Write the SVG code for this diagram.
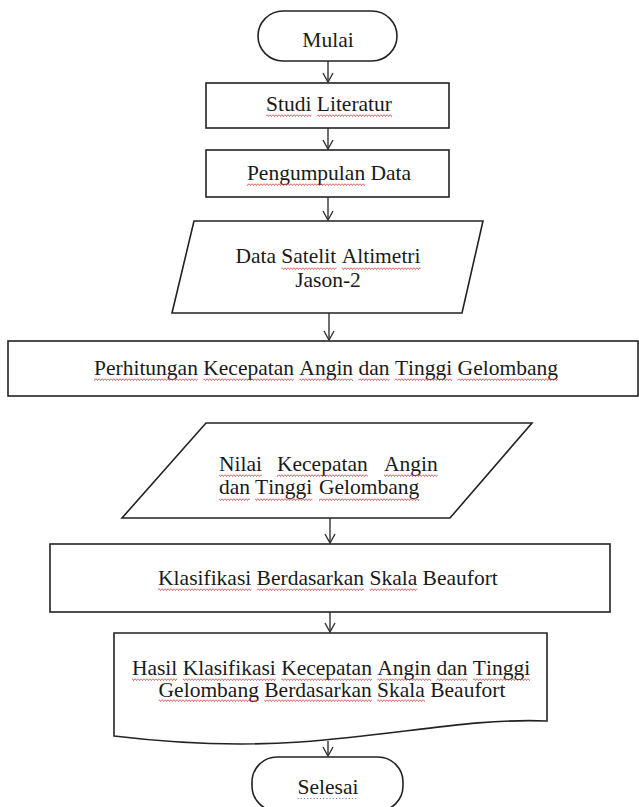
<svg xmlns="http://www.w3.org/2000/svg" width="639" height="807" viewBox="0 0 639 807">
<style>
.s{fill:#fff;stroke:#222;stroke-width:1.6}
.t{font-family:"Liberation Serif","Times New Roman",serif;font-size:21.5px;fill:#1a1a1a;font-kerning:none}
.a{stroke:#333;stroke-width:1.4;fill:none}
.q{fill:url(#sq);height:3px}
.dot{stroke:#7088a8;stroke-width:1.2;stroke-dasharray:1.2 2}
</style>
<defs>
<marker id="ah" markerUnits="userSpaceOnUse" markerWidth="12" markerHeight="12" refX="11" refY="6" orient="auto" viewBox="0 0 12 12">
<path d="M2,1 L11,6 L2,11" fill="none" stroke="#333" stroke-width="1.4"/>
</marker>
<pattern id="sq" width="3" height="3" patternUnits="userSpaceOnUse">
<path d="M0,0.5 L1.5,2.5 L3,0.5" fill="none" stroke="#d03a3a" stroke-width="0.8"/>
</pattern>
</defs>
<rect width="639" height="807" fill="#fff"/>
<g id="connectors">
<line class="a" x1="328" y1="61" x2="328" y2="82" marker-end="url(#ah)"/>
<line class="a" x1="328" y1="128" x2="328" y2="149" marker-end="url(#ah)"/>
<line class="a" x1="328" y1="197" x2="328" y2="220" marker-end="url(#ah)"/>
<line class="a" x1="329" y1="313" x2="329" y2="340" marker-end="url(#ah)"/>
<line class="a" x1="330" y1="518" x2="330" y2="543" marker-end="url(#ah)"/>
<line class="a" x1="330" y1="612" x2="330" y2="632" marker-end="url(#ah)"/>
<line class="a" x1="328" y1="741" x2="328" y2="756" marker-end="url(#ah)"/>
</g>
<g id="mulai">
<rect class="s" x="258" y="11" width="139" height="50" rx="25" ry="25"/>
<text class="t" x="302.3" y="47">Mulai</text>
</g>
<g id="studi">
<rect class="s" x="206" y="83" width="243" height="45"/>
<text class="t" x="266" y="111">Studi Literatur</text>
<rect class="q" x="266" y="114" width="45.4"/>
<rect class="q" x="316.8" y="114" width="75.2"/>
</g>
<g id="pengumpulan">
<rect class="s" x="206" y="150" width="243" height="47"/>
<text class="t" x="246.9" y="180">Pengumpulan Data</text>
<rect class="q" x="246.9" y="183" width="118.3"/>
</g>
<g id="data">
<polygon class="s" points="194,221 483,221 462,313 172,313"/>
<text class="t" x="235.4" y="263">Data Satelit Altimetri</text>
<rect class="q" x="281.4" y="267" width="55"/>
<rect class="q" x="341.8" y="267" width="78.8"/>
<text class="t" x="295.2" y="287">Jason-2</text>
</g>
<g id="perhitungan">
<rect class="s" x="8" y="341" width="630" height="55"/>
<text class="t" x="94" y="375">Perhitungan Kecepatan Angin dan Tinggi Gelombang</text>
<rect class="q" x="94" y="378" width="103.9"/>
<rect class="q" x="203.3" y="378" width="90.7"/>
<rect class="q" x="299.4" y="378" width="53.7"/>
<rect class="q" x="358.5" y="378" width="31"/>
<rect class="q" x="394.9" y="378" width="57.3"/>
<rect class="q" x="457.6" y="378" width="100.3"/>
</g>
<g id="nilai">
<polygon class="s" points="206,423 532,423 450,518 122,518"/>
<text class="t" y="471"><tspan x="219">Nilai</tspan><tspan x="277">Kecepatan</tspan><tspan x="384">Angin</tspan></text>
<text class="t" y="494"><tspan x="219">dan</tspan><tspan x="255">Tinggi</tspan><tspan x="319">Gelombang</tspan></text>
<rect class="q" x="219" y="474" width="43"/>
<rect class="q" x="277" y="474" width="90.7"/>
<rect class="q" x="384" y="474" width="53.7"/>
<rect class="q" x="219" y="498" width="31"/>
<rect class="q" x="255" y="498" width="57.3"/>
<rect class="q" x="319" y="498" width="100.3"/>
</g>
<g id="klasifikasi">
<rect class="s" x="50" y="544" width="560" height="68"/>
<text class="t" x="158.1" y="585">Klasifikasi Berdasarkan Skala Beaufort</text>
<rect class="q" x="158.1" y="588" width="93.2"/>
<rect class="q" x="256.7" y="588" width="107.5"/>
<rect class="q" x="369.6" y="588" width="47.8"/>
</g>
<g id="hasil">
<path class="s" d="M114,633 H547 V721 C470,718 400,735 300,742 C240,746 180,744 114,736 Z"/>
<text class="t" x="131.9" y="675">Hasil Klasifikasi Kecepatan Angin dan Tinggi</text>
<rect class="q" x="131.9" y="678" width="45.4"/>
<rect class="q" x="182.7" y="678" width="93.2"/>
<rect class="q" x="281.3" y="678" width="90.7"/>
<rect class="q" x="377.4" y="678" width="53.7"/>
<rect class="q" x="436.5" y="678" width="31"/>
<rect class="q" x="472.9" y="678" width="57.3"/>
<text class="t" x="158.6" y="697">Gelombang Berdasarkan Skala Beaufort</text>
<rect class="q" x="158.6" y="699" width="100.3"/>
<rect class="q" x="264.3" y="699" width="107.5"/>
<rect class="q" x="377.2" y="699" width="47.8"/>
</g>
<g id="selesai">
<rect class="s" x="252" y="757" width="151" height="54" rx="25" ry="25"/>
<text class="t" x="297.5" y="794">Selesai</text>
<line class="dot" x1="297.5" y1="798.5" x2="358.4" y2="798.5"/>
</g>
</svg>
